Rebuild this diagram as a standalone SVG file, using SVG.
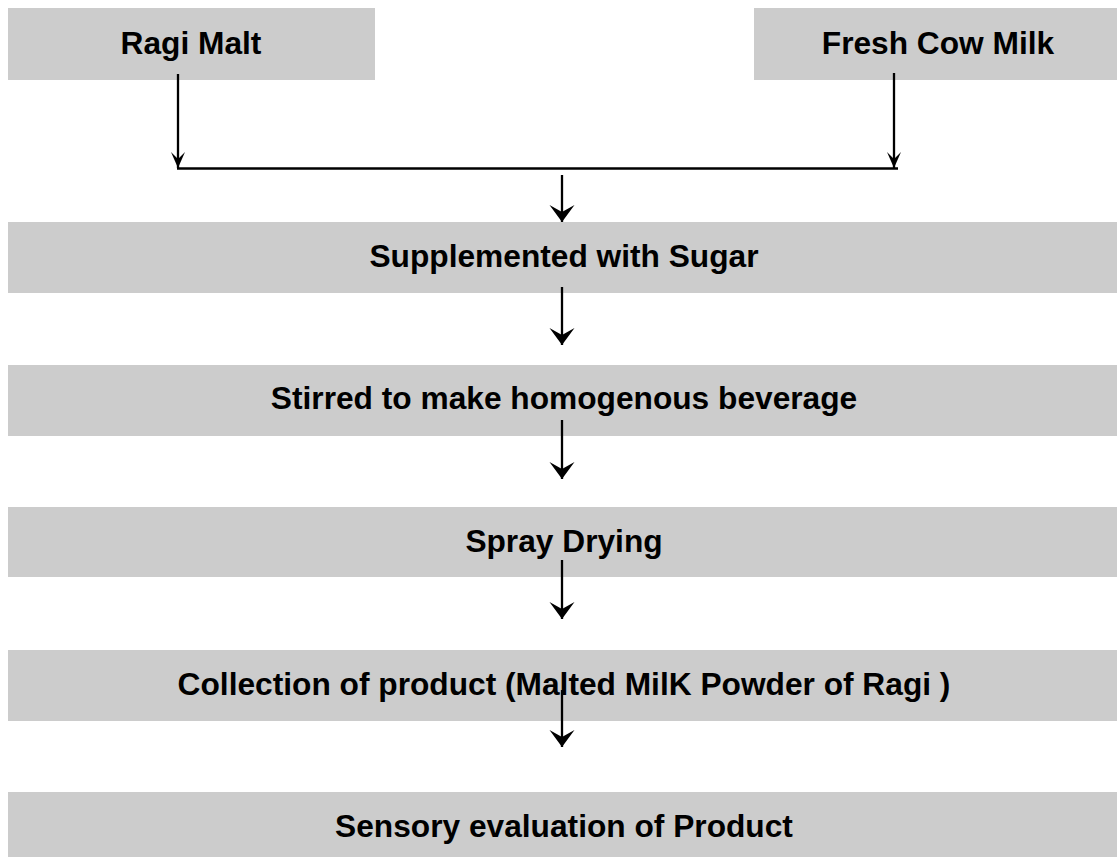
<svg xmlns="http://www.w3.org/2000/svg" width="1117" height="857" viewBox="0 0 1117 857">
  <style>
    .box { fill: #cccccc; stroke: none; }
    .lbl { font-family: "Liberation Sans", Arial, sans-serif; font-weight: bold; font-size: 31.7px; fill: #000000; text-anchor: middle; }
    .conn { stroke: #000000; stroke-width: 2.3; fill: none; }
  </style>
  <defs>
    <marker id="bigArrow" viewBox="-18 -14 20 28" refX="0" refY="0" markerWidth="20" markerHeight="28" markerUnits="userSpaceOnUse" orient="auto" overflow="visible">
      <path d="M0,0 L-17,-12.5 L-10,0 L-17,12.5 Z" fill="#000000"/>
    </marker>
    <marker id="smallArrow" viewBox="-17 -8 19 16" refX="0" refY="0" markerWidth="19" markerHeight="16" markerUnits="userSpaceOnUse" orient="auto" overflow="visible">
      <path d="M0,0 L-16,-7 L-9,0 L-16,7 Z" fill="#000000"/>
    </marker>
  </defs>
  <rect x="0" y="0" width="1117" height="857" fill="#ffffff"/>

  <g id="node-ragi-malt">
    <rect class="box" x="8" y="8" width="367" height="72"/>
    <text class="lbl" x="191" y="54">Ragi Malt</text>
  </g>
  <g id="node-fresh-cow-milk">
    <rect class="box" x="754" y="8" width="370" height="72"/>
    <text class="lbl" x="938" y="54">Fresh Cow Milk</text>
  </g>
  <g id="node-supplemented">
    <rect class="box" x="8" y="222" width="1115" height="71"/>
    <text class="lbl" x="564" y="267">Supplemented with Sugar</text>
  </g>
  <g id="node-stirred">
    <rect class="box" x="8" y="365" width="1115" height="71"/>
    <text class="lbl" x="564" y="409">Stirred to make homogenous beverage</text>
  </g>
  <g id="node-spray-drying">
    <rect class="box" x="8" y="507" width="1115" height="70"/>
    <text class="lbl" x="564" y="552">Spray Drying</text>
  </g>
  <g id="node-collection">
    <rect class="box" x="8" y="650" width="1115" height="71"/>
    <text class="lbl" x="564" y="695">Collection of product (Malted MilK Powder of Ragi )</text>
  </g>
  <g id="node-sensory">
    <rect class="box" x="8" y="792" width="1115" height="70"/>
    <text class="lbl" x="564" y="837">Sensory evaluation of Product</text>
  </g>

  <g id="connectors">
    <line class="conn" x1="178" y1="74" x2="178" y2="168" marker-end="url(#smallArrow)"/>
    <line class="conn" x1="894" y1="73" x2="894" y2="168" marker-end="url(#smallArrow)"/>
    <line class="conn" x1="177" y1="168.5" x2="898" y2="168.5"/>
    <line class="conn" x1="562" y1="175" x2="562" y2="222" marker-end="url(#bigArrow)"/>
    <line class="conn" x1="562" y1="287" x2="562" y2="345" marker-end="url(#bigArrow)"/>
    <line class="conn" x1="562" y1="420" x2="562" y2="479" marker-end="url(#bigArrow)"/>
    <line class="conn" x1="562" y1="560" x2="562" y2="619" marker-end="url(#bigArrow)"/>
    <line class="conn" x1="562" y1="690" x2="562" y2="747" marker-end="url(#bigArrow)"/>
  </g>
</svg>
